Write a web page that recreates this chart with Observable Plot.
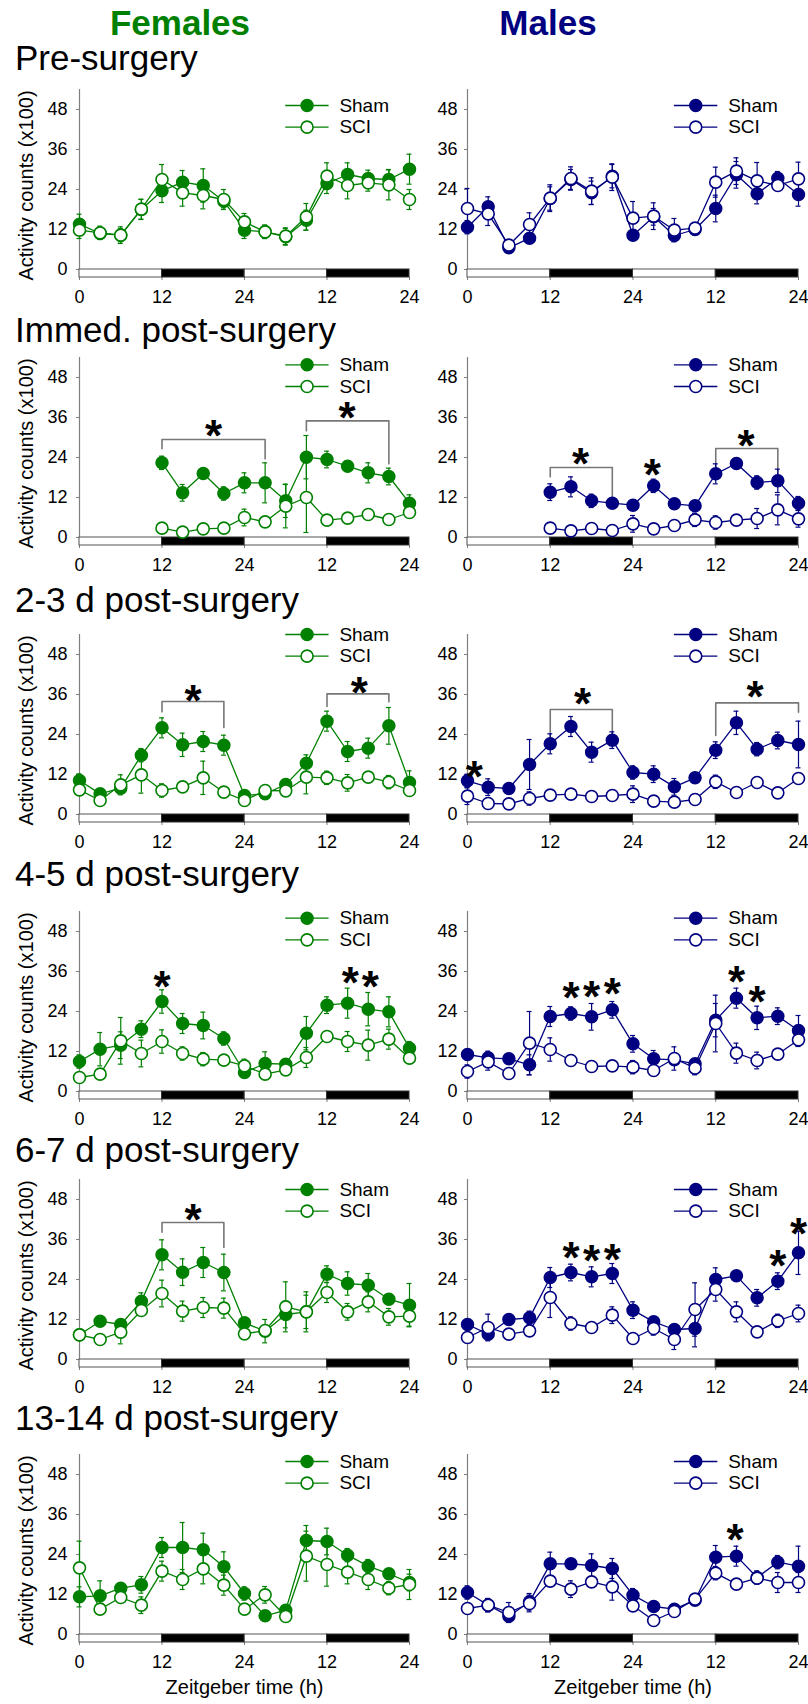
<!DOCTYPE html>
<html><head><meta charset="utf-8">
<script src="https://cdn.jsdelivr.net/npm/d3@7"></script>
<script src="https://cdn.jsdelivr.net/npm/@observablehq/plot@0.6"></script>
<style>
body{margin:0;background:#fff;}
#root{position:relative;width:808px;height:1704px;overflow:hidden;font-family:"Liberation Sans",Arial,sans-serif;background:#fff;}
.ttl{position:absolute;white-space:nowrap;line-height:35px;font-size:35px;}
.panel{position:absolute;}
.panel svg{overflow:visible;background:transparent !important;}
</style></head><body><div id="root"></div>
<script>
// ---------- data ----------
const hours = [0,3,6,9,12,15,18,21,24,27,30,33,36,39,42,45,48];
const xTicks = [0,12,24,36,48];
const xTickLabels = ["0","12","24","12","24"];
const yTicks = [0,12,24,36,48];
const rowTitles = ["Pre-surgery","Immed. post-surgery","2-3 d post-surgery","4-5 d post-surgery","6-7 d post-surgery","13-14 d post-surgery"];
const sexTitles = ["Females","Males"];
const groupNames = ["Sham","SCI"];
const yLabel = "Activity counts (x100)";
const xLabel = "Zeitgeber time (h)";
const phaseStart = [0,12,24,36];
const phaseEnd = [12,24,36,48];
const phaseDark = [false,true,false,true];
const _ = null;

// Females
const fPreSham   = [13.6,10.8,10.3,18,23.6,26.2,25.2,20.5,11.8,11.3,9.8,14.8,25.8,28.5,27.3,27.0,30.1];
const fPreShamE  = [3,1.5,2,3,3.5,3.5,5,2,2.5,2,2.5,3,3,3.5,2.5,3,4.5];
const fPreSci    = [11.8,11,10.3,18.1,27,23,22.2,21,14.3,11.3,10,15.8,28,25.2,26,25.4,21];
const fPreSciE   = [2.5,2,2.5,3,4.5,4,4,3,2.5,2,2.5,4,4,4,2.5,4.5,3];
const fImmSham   = [_,_,_,_,22.4,13.4,19.2,13.2,16.4,16.4,11,24.1,23.4,21.4,19.4,18.3,10.3];
const fImmShamE  = [_,_,_,_,2,2.5,1.5,2,3,6,5,6.5,2.5,1.5,3,2.5,2.5];
const fImmSci    = [_,_,_,_,2.8,1.6,2.6,2.8,6,4.7,9.4,12,5.2,5.8,6.9,5.4,7.5];
const fImmSciE   = [_,_,_,_,0.5,0.5,0.5,0.5,2.5,1,6.5,10.5,1,1.5,1,0.5,1];
const f23Sham    = [10.2,6.2,7.9,17.8,26,20.9,21.9,20.8,5.7,6.2,9,15.4,28,18.9,19.9,26.6,9.6];
const f23ShamE   = [2,1,1.5,2,3,3.5,3,3,1.5,1,1.5,2.5,3,3,3,5.5,3.5];
const f23Sci     = [7.4,4.2,8.9,11.9,7.2,8.3,11,6.7,4.2,7.2,7.1,11.2,11,9.5,11.2,9.7,7.2];
const f23SciE    = [1.5,1,3,5.5,2,1,5,1.5,1,1,1.5,5,2,2.5,1.5,2,1.5];
const f45Sham    = [9,12.7,13.9,18.7,27,20.4,19.8,15.9,5.7,8.4,8.2,17.5,25.9,26.5,24.7,23.9,13];
const f45ShamE   = [2,5,4,2.5,3.5,3,4,2,1.5,3.5,1.5,5,2.5,4.5,5,4.5,2];
const f45Sci     = [4.2,5.2,15.2,11.4,15,11.4,9.7,9.4,7.7,5.2,6.5,10.2,16.5,15,13.9,15.7,10];
const f45SciE    = [1,1,7,4,3.5,2,2,1,2,1,1.5,3,1,3,4.5,3,1];
const f67Sham    = [7.4,11.5,10.5,17.5,31.4,26.2,29.1,26.1,11,8.5,13.5,14.3,25.6,22.8,22.3,18.1,16.3];
const f67ShamE   = [1,1.5,1.5,2.5,4.5,4,4.5,5.5,1.5,3.5,4,5,2.5,3.5,3.5,1,6.5];
const f67Sci     = [7.4,6,8.2,14.7,19.8,14.5,15.6,15.4,7.7,8.7,15.8,14.3,20.1,14.3,17.3,12.8,13];
const f67SciE    = [1,1,3.5,1,4,3,3,3,1,1,7.5,6,3,2.5,3,2.5,3];
const f1314Sham  = [11.3,11.6,13.9,14.9,26.1,26.1,25.4,20.3,12.3,5.6,7.3,28.2,27.9,23.8,20.5,18.2,15.6];
const f1314ShamE = [3,4.5,1.5,2.5,3,7.5,5,4.5,2,0.5,0.5,4.5,4,2,2,1.5,2.5];
const f1314Sci   = [20,7.6,11.1,8.8,19,16.5,19.7,14.8,7.6,11.9,5.4,23.5,21,18.7,16.5,13.9,15];
const f1314SciE  = [8,1.5,1.5,2.5,3,3,4.5,3,1,2.5,0.5,7.5,6.5,3.5,3,2,4.5];

// Males
const mPreSham   = [12.7,18.8,6.5,9.4,21.3,27,23,28,10.3,15.8,10.2,12,18.3,28.4,22.7,27.4,22.5];
const mPreShamE  = [2,3,1,1.5,3.5,3,3.5,3.5,1.5,2.5,1.5,1.5,4,4,3,2,3.5];
const mPreSci    = [18.3,16.7,7.3,13.5,21.4,27.3,23.5,27.7,15.4,16,11.8,12.4,26.2,29.5,26.6,25.2,27.2];
const mPreSciE   = [6,3.5,1,3.5,4,3.5,4,4,5,4,3.5,1.5,4.5,4,5.5,1.5,5];
const mImmSham   = [_,_,_,_,13.6,15.2,11,10.3,9.7,15.5,10.1,9.5,19.1,22.2,16.5,17,10.3];
const mImmShamE  = [_,_,_,_,2.5,3,2,1,1,2,1,1,3,1.5,2,3.5,2];
const mImmSci    = [_,_,_,_,2.8,2,2.7,2.1,4.1,2.6,3.6,5.3,4.5,5.2,5.7,8.3,5.6];
const mImmSciE   = [_,_,_,_,0.5,0.5,0.5,0.5,2.5,0.5,0.5,2,2,1.5,3,4.5,2.5];
const m23Sham    = [10.1,8.2,7.8,15,21.2,26.4,18.7,22.3,12.6,12.1,8.3,11,19.3,27.5,19.6,22.2,21];
const m23ShamE   = [2,2.5,1,7.5,3,3,3,2.5,2,2.5,2.5,1,2.5,3.5,2,2.5,7];
const m23Sci     = [5.5,3.3,3.2,4.8,5.8,6.1,5.4,5.7,6.1,4,3.7,4.5,9.8,6.6,9.6,6.5,10.8];
const m23SciE    = [2.5,1,1,2,1,1,1,1,2.5,1,1,1,2,1,1,1,1.5];
const m45Sham    = [11.1,10.1,9.8,8,22.5,23.4,22.4,24.5,14.3,9.8,9.5,8.3,21.4,28,22.1,22.6,18.3];
const m45ShamE   = [1.5,2,1,3,3,2,4,2.5,2.5,2.5,1.5,1,5,3,3.5,2.5,4.5];
const m45Sci     = [6,8.9,5.4,14.5,12.6,9.3,7.5,7.7,7.3,6.3,9.9,7,20.4,11.5,9.3,11.2,15.5];
const m45SciE    = [2,2.5,1,9.5,3.5,1,1,1.5,2,1.5,3.5,2,8.5,3,2.5,1.5,2];
const m67Sham    = [10.5,7.6,12,12.5,24.6,26.1,24.8,25.8,14.8,11.3,9,9.3,24,25.1,18.5,23.5,32];
const m67ShamE   = [1.5,1.5,1,2,3,2.5,3,3,2.5,1.5,1,5.5,3.5,1,2.5,2.5,6.5];
const m67Sci     = [6.6,9.6,7.6,8.6,18.6,10.8,9.6,13.3,6.3,9.3,6,15,21,14.3,8.3,11.6,13.8];
const m67SciE    = [1.5,4,1,1,6,2,1,2.5,1,2,3,8,3.5,3,1.5,2,2.5];
const m1314Sham  = [12.6,8.8,5.5,9.8,21.2,21.2,20.7,19.8,11.8,8.4,7.6,10.3,23.2,23.5,17.1,21.7,20.5];
const m1314ShamE = [2,2,1,2.5,3.5,1.5,3.5,3,2,1,1,1.5,3.5,3,2,2,6];
const m1314Sci   = [7.8,8.8,6.6,9.3,16,13.6,15.8,14.3,8.6,4.2,6.9,10.6,18.4,15.1,16.9,15.6,15.6];
const m1314SciE  = [1,2,3,2.5,1.5,2.5,1.5,4,1.5,1,1,1.5,2,1.5,1.5,3,3];

// significance asterisks [hour, value] and brackets [x1, x2, top, leftEnd, rightEnd]
const fStars = [[], [[19.5,33.4],[38.9,39]], [[16.5,37],[40.7,39.5]], [[12,34.5],[39.4,35.5],[42.3,34.5]], [[16.5,45]], []];
const mStars = [[], [[16.4,25],[26.8,21.7],[40.4,30.6]], [[1,14.2],[16.7,36.2],[41.7,38.2]], [[15,31.2],[18,31.5],[21,32.3],[39,36],[42,29.8]], [[15,33.5],[18,32.5],[21,33],[45,31.1],[48,40.8]], [[38.8,31.4]]];
const fBrackets = [[], [[12,27,29.4,26.6,23.6],[33,45,35,32,22.1]], [[12,21,33.9,30.8,26.1],[36,45,36.2,32.4,33.8]], [], [[12,21,41.1,38.2,33.6]], []];
const mBrackets = [[], [[12,21,21,18.2,11],[36,45,26.7,21,19.1]], [[12,21,31.5,23.5,24.2],[36,48,33.5,23.7,30.7]], [], [], []];
const legendTop = [49.2, 51.8, 54, 52, 51, 51.9];

// ---------- assembly ----------
const shamVals = [[fPreSham,fImmSham,f23Sham,f45Sham,f67Sham,f1314Sham],[mPreSham,mImmSham,m23Sham,m45Sham,m67Sham,m1314Sham]];
const shamErrs = [[fPreShamE,fImmShamE,f23ShamE,f45ShamE,f67ShamE,f1314ShamE],[mPreShamE,mImmShamE,m23ShamE,m45ShamE,m67ShamE,m1314ShamE]];
const sciVals  = [[fPreSci,fImmSci,f23Sci,f45Sci,f67Sci,f1314Sci],[mPreSci,mImmSci,m23Sci,m45Sci,m67Sci,m1314Sci]];
const sciErrs  = [[fPreSciE,fImmSciE,f23SciE,f45SciE,f67SciE,f1314SciE],[mPreSciE,mImmSciE,m23SciE,m45SciE,m67SciE,m1314SciE]];
const starsBySex = [fStars, mStars];
const bracketsBySex = [fBrackets, mBrackets];

const COLORS = ["#008000", "#000080"];
const AXIS = "#7f7f7f";
const FONT = '"Liberation Sans", Arial, sans-serif';
const BAR = 2.4;      // depth of light/dark bar below zero (value units)
const YTOP = 54;
const CAP = 0.36;     // half width of error caps (hours)
const zeroPx = [269, 537, 814, 1091, 1359, 1634];
const titleBase = [70, 342, 612, 886, 1162, 1430];

const root = document.getElementById("root");
function addText(txt, left, baseline, opts = {}) {
  const d = document.createElement("div");
  d.className = "ttl";
  d.textContent = txt;
  d.style.left = left + "px";
  d.style.top = (baseline - 29.6) + "px";
  if (opts.center) d.style.transform = "translateX(-50%)";
  if (opts.bold) d.style.fontWeight = "bold";
  if (opts.color) d.style.color = opts.color;
  root.appendChild(d);
}
addText(sexTitles[0], 180, 35, {center: true, bold: true, color: COLORS[0]});
addText(sexTitles[1], 548, 35, {center: true, bold: true, color: COLORS[1]});
rowTitles.forEach((t, r) => addText(t, 15, titleBase[r]));

const phases = phaseStart.map((s, i) => ({start: s, end: phaseEnd[i], dark: phaseDark[i]}));
function series(vals, errs) {
  return hours.map((h, i) => ({h, v: vals[i], e: errs[i]})).filter(d => d.v != null);
}

function panel(row, side) {
  const col = COLORS[side];
  const sham = series(shamVals[side][row], shamErrs[side][row]);
  const sci = series(sciVals[side][row], sciErrs[side][row]);
  const stars = starsBySex[side][row];
  const brackets = bracketsBySex[side][row];
  const bracketPts = brackets.flatMap((b, i) => [
    {id: i, x: b[0], y: b[3]}, {id: i, x: b[0], y: b[2]}, {id: i, x: b[1], y: b[2]}, {id: i, x: b[1], y: b[4]}
  ]);
  const legend = groupNames.map((g, i) => ({g, i, y: legendTop[row] - i * 6.5}));
  const last = row === 5;
  const mt = 40, mb = last ? 72 : 50;
  const ml = side === 0 ? 79 : 67, mr = side === 0 ? 11 : 10, W = side === 0 ? 420 : 408;
  const pxPerHour = (W - ml - mr) / 48;
  const H = mt + 188 + mb;
  const marks = [
    Plot.ruleX([0], {y1: () => -BAR, y2: () => YTOP, stroke: AXIS, strokeWidth: 1.2}),
    Plot.axisY({ticks: yTicks, tickSize: 3, tickPadding: side === 0 ? 9 : 7, stroke: AXIS, label: null, fontSize: 18}),
    Plot.axisX({ticks: xTicks, tickFormat: d => xTickLabels[xTicks.indexOf(d)], tickSize: 3, tickPadding: 10, stroke: AXIS, label: null, fontSize: 18}),
    Plot.rect(phases.filter(d => !d.dark), {x1: "start", x2: "end", y1: () => -BAR, y2: () => 0, fill: "white", stroke: "#555", strokeWidth: 1}),
    Plot.rect(phases.filter(d => d.dark), {x1: "start", x2: "end", y1: () => -BAR, y2: () => 0, fill: "black", stroke: "#333", strokeWidth: 1}),
    Plot.line(bracketPts, {x: "x", y: "y", z: "id", stroke: "#777", strokeWidth: 1.6}),
  ];
  for (const s of [sham, sci]) {
    marks.push(
      Plot.ruleX(s, {x: "h", y1: d => d.v - d.e, y2: d => d.v + d.e, stroke: col, strokeWidth: 1.2}),
      Plot.ruleY(s, {y: d => d.v + d.e, x1: d => d.h - CAP, x2: d => d.h + CAP, stroke: col, strokeWidth: 1.2}),
      Plot.ruleY(s, {y: d => d.v - d.e, x1: d => d.h - CAP, x2: d => d.h + CAP, stroke: col, strokeWidth: 1.2}),
      Plot.line(s, {x: "h", y: "v", stroke: col, strokeWidth: 1.3})
    );
  }
  marks.push(
    Plot.dot(sham, {x: "h", y: "v", r: 6, fill: col, stroke: col}),
    Plot.dot(sci, {x: "h", y: "v", r: 6, fill: "white", stroke: col, strokeWidth: 1.6}),
    Plot.text(stars, {x: d => d[0], y: d => d[1], text: () => "*", fontSize: 44, fontWeight: "bold", fill: "black", dy: 11}),
    Plot.ruleY(legend, {y: "y", x1: () => 30, x2: () => 36.3, stroke: col, strokeWidth: 1.3}),
    Plot.dot(legend.filter(d => d.i === 0), {x: () => 33.1, y: "y", r: 6, fill: col, stroke: col}),
    Plot.dot(legend.filter(d => d.i === 1), {x: () => 33.1, y: "y", r: 6, fill: "white", stroke: col, strokeWidth: 1.6}),
    Plot.text(legend, {x: () => 37.8, y: "y", text: "g", textAnchor: "start", fontSize: 19, fill: "black"})
  );
  // y-axis title: centred 53px left of the axis, at the middle of the frame
  if (side === 0) marks.push(Plot.text([yLabel], {x: () => -53 / pxPerHour, y: () => 25.2, rotate: -90, text: d => d, fontSize: 20, fill: "black"}));
  if (last) marks.push(Plot.text([xLabel], {frameAnchor: "bottom", dy: 51, text: d => d, fontSize: 20, fill: "black"}));

  const svg = Plot.plot({
    width: W, height: H,
    marginLeft: ml, marginRight: mr, marginTop: mt, marginBottom: mb,
    x: {domain: [0, 48], axis: null},
    y: {domain: [-BAR, YTOP], axis: null},
    style: {fontFamily: FONT, fontSize: "18px", background: "transparent", overflow: "visible", color: "black"},
    marks
  });
  const div = document.createElement("div");
  div.className = "panel";
  div.style.left = (side === 0 ? 0 : 400) + "px";
  div.style.top = (zeroPx[row] - 180 - mt) + "px";
  div.style.width = W + "px";
  div.style.height = H + "px";
  div.appendChild(svg);
  root.appendChild(div);
}
for (let r = 0; r < 6; r++) { panel(r, 0); panel(r, 1); }
</script></body></html>
